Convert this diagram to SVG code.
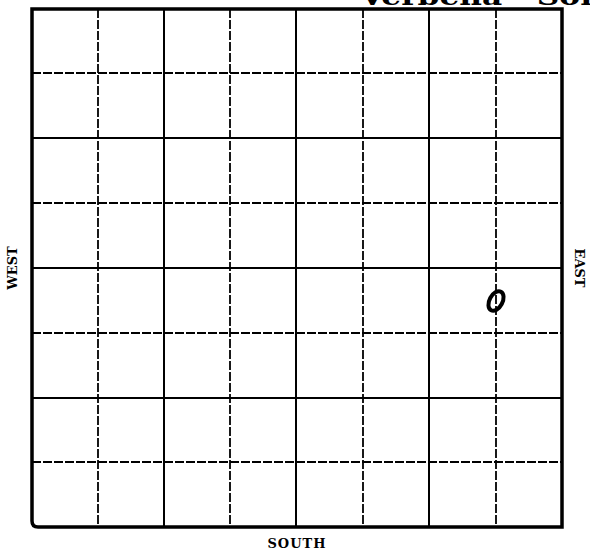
<svg xmlns="http://www.w3.org/2000/svg" width="590" height="550" viewBox="0 0 590 550">
  <style>
    .solid { stroke: #000; stroke-width: 2; fill: none; }
    .dash { stroke: #000; stroke-width: 1.8; fill: none; stroke-dasharray: 9 2; }
    .border { stroke: #000; stroke-width: 3.5; fill: none; stroke-linejoin: miter; }
    .lbl { font-family: "DejaVu Serif", "Liberation Serif", serif; font-weight: bold; font-size: 13px; fill: #000; }
    .title { font-family: "DejaVu Serif", "Liberation Serif", serif; font-weight: bold; font-size: 24px; fill: #000; }
  </style>
  <rect x="0" y="0" width="590" height="550" fill="#fff"/>
  <text class="title" x="360" y="5" textLength="232" lengthAdjust="spacingAndGlyphs">Verbena - Sol</text>
  <g id="grid">
    <g id="vertical-lines">
      <line class="dash" x1="98" y1="9" x2="98" y2="527"/>
      <line class="solid" x1="164" y1="9" x2="164" y2="527"/>
      <line class="dash" x1="230" y1="9" x2="230" y2="527"/>
      <line class="solid" x1="296" y1="9" x2="296" y2="527"/>
      <line class="dash" x1="363" y1="9" x2="363" y2="527"/>
      <line class="solid" x1="429" y1="9" x2="429" y2="527"/>
      <line class="dash" x1="496" y1="9" x2="496" y2="527"/>
    </g>
    <g id="horizontal-lines">
      <line class="dash" x1="32" y1="73" x2="562" y2="73"/>
      <line class="solid" x1="32" y1="138" x2="562" y2="138"/>
      <line class="dash" x1="32" y1="203" x2="562" y2="203"/>
      <line class="solid" x1="32" y1="268" x2="562" y2="268"/>
      <line class="dash" x1="32" y1="333" x2="562" y2="333"/>
      <line class="solid" x1="32" y1="398" x2="562" y2="398"/>
      <line class="dash" x1="32" y1="462" x2="562" y2="462"/>
    </g>
    <path id="frame" class="border" d="M32,9 L562,9 L562,527 L38,527 Q32,527 32,521 Z"/>
  </g>
  <g id="mark">
    <ellipse cx="496" cy="301" rx="6.5" ry="10.5" transform="rotate(28 496 301)" fill="none" stroke="#000" stroke-width="4"/>
  </g>
  <g id="labels">
    <text class="lbl" transform="translate(17 268) rotate(-90)" text-anchor="middle">WEST</text>
    <text class="lbl" transform="translate(575 268) rotate(90)" text-anchor="middle">EAST</text>
    <text class="lbl" x="297" y="548" text-anchor="middle" letter-spacing="1">SOUTH</text>
  </g>
</svg>
